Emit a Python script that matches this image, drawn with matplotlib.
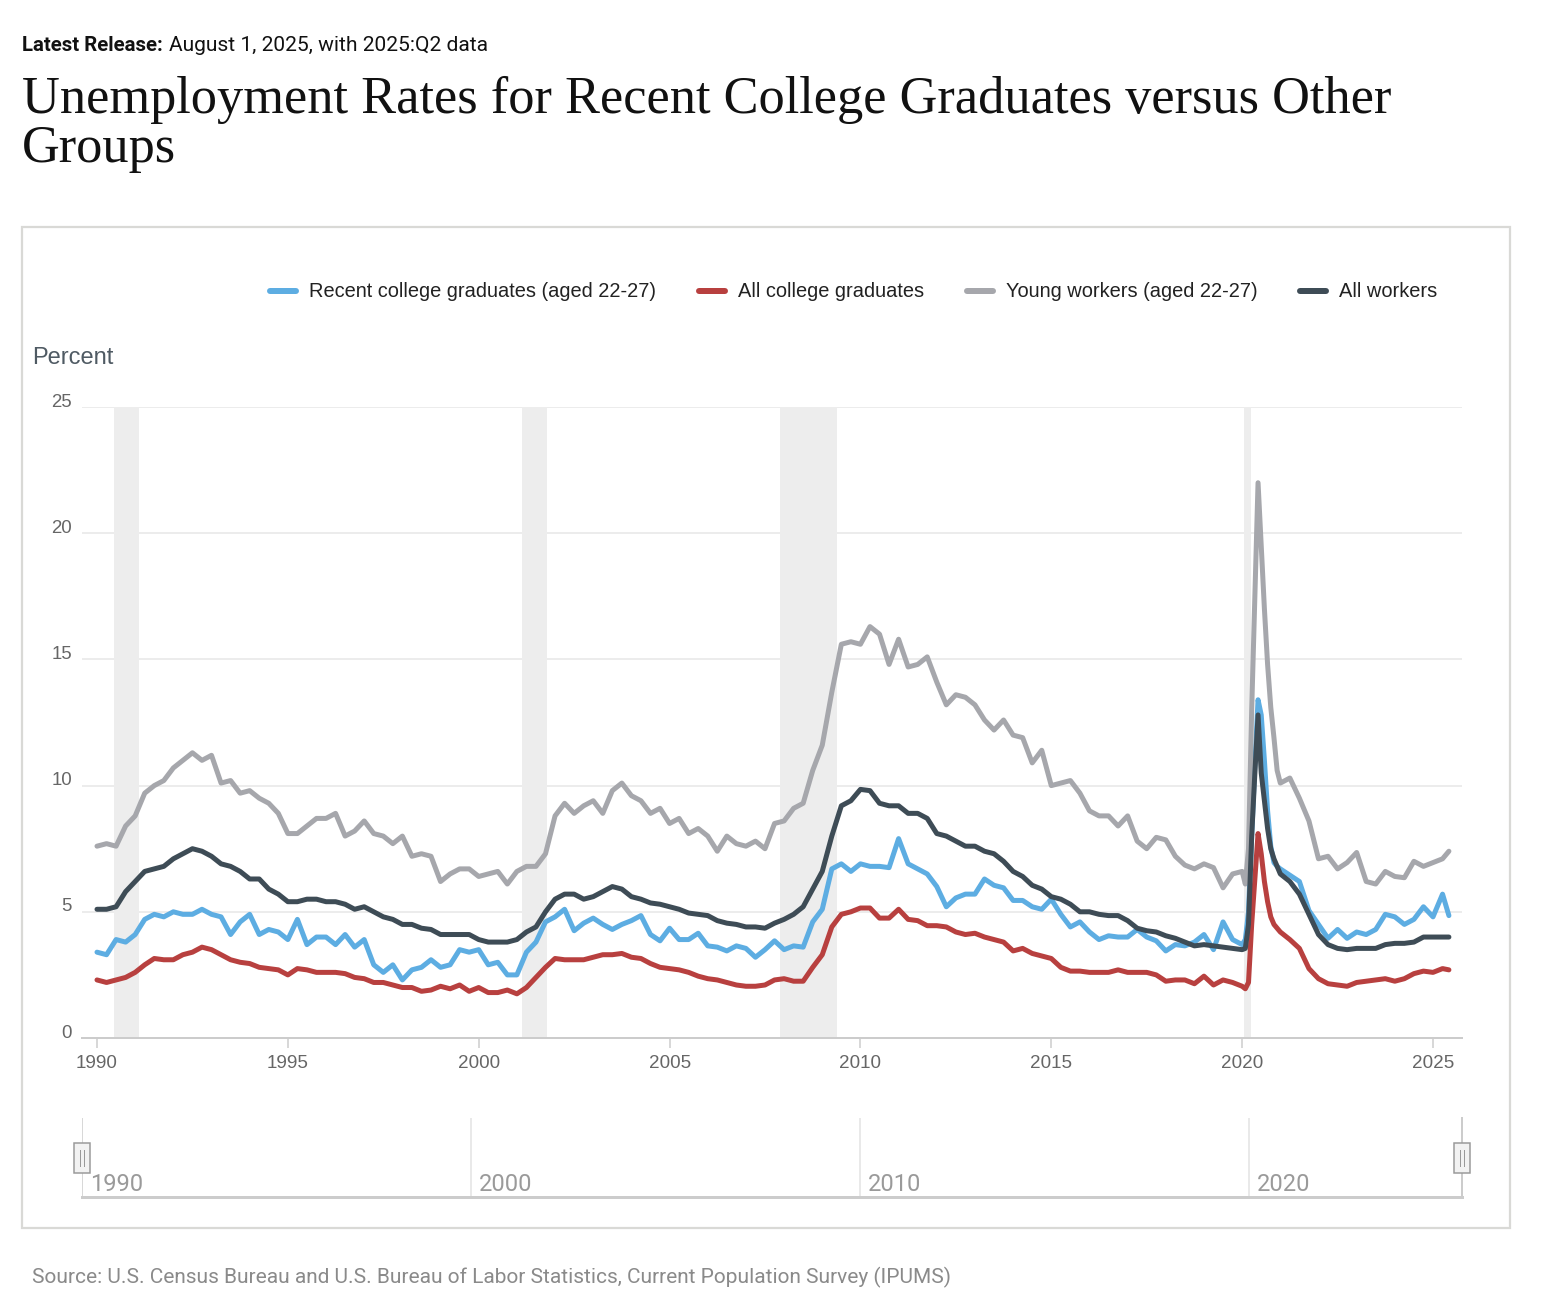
import numpy as np
import matplotlib
matplotlib.use('Agg')
import matplotlib.pyplot as plt
from matplotlib.patches import Rectangle
from matplotlib.lines import Line2D
from matplotlib import font_manager

# ---------------- data ----------------
years_quarterly = np.arange(1990, 2020, 0.25)                 # 1990Q1 .. 2019Q4
months_2020 = 2020 + np.arange(12) / 12                       # Jan .. Dec 2020
years_recent = np.append(np.arange(2021, 2025.5, 0.25), 2025 + 5 / 12)
dates = np.concatenate([years_quarterly, months_2020, years_recent])

recent_grads = (
    [3.4, 3.3, 3.9, 3.8, 4.1, 4.7, 4.9, 4.8, 5.0, 4.9, 4.9, 5.1, 4.9, 4.8, 4.1, 4.6,
     4.9, 4.1, 4.3, 4.2, 3.9, 4.7, 3.7, 4.0, 4.0, 3.7, 4.1, 3.6, 3.9, 2.9, 2.6, 2.9,
     2.3, 2.7, 2.8, 3.1, 2.8, 2.9, 3.5, 3.4, 3.5, 2.9, 3.0, 2.5, 2.5, 3.4, 3.8, 4.6]
    + [4.8, 5.1, 4.25, 4.55, 4.75, 4.5, 4.3, 4.5, 4.65, 4.85, 4.1, 3.85, 4.35, 3.9, 3.9, 4.15,
       3.65, 3.6, 3.45, 3.65, 3.55, 3.2, 3.5, 3.85, 3.5, 3.65, 3.6, 4.6, 5.1, 6.7, 6.9, 6.6,
       6.9, 6.8, 6.8, 6.75, 7.9, 6.9, 6.7, 6.5, 6.0, 5.2, 5.55, 5.7, 5.7, 6.3, 6.05, 5.95]
    + [5.45, 5.45, 5.2, 5.1, 5.5, 4.9, 4.4, 4.6, 4.2, 3.9, 4.05, 4.0,
       4.0, 4.3, 4.0, 3.85, 3.45, 3.7, 3.65, 3.8, 4.1, 3.5, 4.6, 3.9]
    + [3.7, 3.9, 5.0, 8.0, 10.8, 13.4, 12.8, 11.0, 9.0, 7.6, 6.95, 6.8]
    + [6.7, 6.45, 6.2, 5.05, 4.5, 3.95, 4.3, 3.95, 4.2, 4.1, 4.3, 4.9, 4.8, 4.5, 4.7,
       5.2, 4.8, 5.7, 4.85]
)

all_grads = (
    [2.3, 2.2, 2.3, 2.4, 2.6, 2.9, 3.15, 3.1, 3.1, 3.3, 3.4, 3.6, 3.5, 3.3, 3.1, 3.0,
     2.95, 2.8, 2.75, 2.7, 2.5, 2.75, 2.7, 2.6, 2.6, 2.6, 2.55, 2.4, 2.35, 2.2, 2.2, 2.1,
     2.0, 2.0, 1.85, 1.9, 2.05, 1.95, 2.1, 1.85, 2.0, 1.8, 1.8, 1.9, 1.75, 2.0, 2.4, 2.8]
    + [3.15, 3.1, 3.1, 3.1, 3.2, 3.3, 3.3, 3.35, 3.2, 3.15, 2.95, 2.8, 2.75, 2.7, 2.6, 2.45,
       2.35, 2.3, 2.2, 2.1, 2.05, 2.05, 2.1, 2.3, 2.35, 2.25, 2.25, 2.8, 3.3, 4.4, 4.9, 5.0,
       5.15, 5.15, 4.75, 4.75, 5.1, 4.7, 4.65, 4.45, 4.45, 4.4, 4.2, 4.1, 4.15, 4.0, 3.9, 3.8]
    + [3.45, 3.55, 3.35, 3.25, 3.15, 2.8, 2.65, 2.65, 2.6, 2.6, 2.6, 2.7,
       2.6, 2.6, 2.6, 2.5, 2.25, 2.3, 2.3, 2.15, 2.45, 2.1, 2.3, 2.2]
    + [2.05, 1.95, 2.2, 4.5, 6.3, 8.1, 7.3, 6.2, 5.4, 4.8, 4.5, 4.35]
    + [4.2, 3.9, 3.55, 2.75, 2.35, 2.15, 2.1, 2.05, 2.2, 2.25, 2.3, 2.35, 2.25, 2.35, 2.55,
       2.65, 2.6, 2.75, 2.7]
)

young_workers = (
    [7.6, 7.7, 7.6, 8.4, 8.8, 9.7, 10.0, 10.2, 10.7, 11.0, 11.3, 11.0, 11.2, 10.1, 10.2, 9.7,
     9.8, 9.5, 9.3, 8.9, 8.1, 8.1, 8.4, 8.7, 8.7, 8.9, 8.0, 8.2, 8.6, 8.1, 8.0, 7.7,
     8.0, 7.2, 7.3, 7.2, 6.2, 6.5, 6.7, 6.7, 6.4, 6.5, 6.6, 6.1, 6.6, 6.8, 6.8, 7.3]
    + [8.8, 9.3, 8.9, 9.2, 9.4, 8.9, 9.8, 10.1, 9.6, 9.4, 8.9, 9.1, 8.5, 8.7, 8.1, 8.3,
       8.0, 7.4, 8.0, 7.7, 7.6, 7.8, 7.5, 8.5, 8.6, 9.1, 9.3, 10.6, 11.6, 13.7, 15.6, 15.7,
       15.6, 16.3, 16.0, 14.8, 15.8, 14.7, 14.8, 15.1, 14.1, 13.2, 13.6, 13.5, 13.2, 12.6, 12.2, 12.6]
    + [12.0, 11.9, 10.9, 11.4, 10.0, 10.1, 10.2, 9.7, 9.0, 8.8, 8.8, 8.4,
       8.8, 7.8, 7.5, 7.95, 7.85, 7.2, 6.85, 6.7, 6.9, 6.75, 5.95, 6.5]
    + [6.6, 6.1, 7.5, 13.0, 17.5, 22.0, 19.5, 17.0, 14.8, 13.1, 11.9, 10.6]
    + [10.1, 10.3, 9.5, 8.6, 7.1, 7.2, 6.7, 6.95, 7.35, 6.2, 6.1, 6.6, 6.4, 6.35, 7.0,
       6.8, 6.95, 7.1, 7.4]
)

all_workers = (
    [5.1, 5.1, 5.2, 5.8, 6.2, 6.6, 6.7, 6.8, 7.1, 7.3, 7.5, 7.4, 7.2, 6.9, 6.8, 6.6,
     6.3, 6.3, 5.9, 5.7, 5.4, 5.4, 5.5, 5.5, 5.4, 5.4, 5.3, 5.1, 5.2, 5.0, 4.8, 4.7,
     4.5, 4.5, 4.35, 4.3, 4.1, 4.1, 4.1, 4.1, 3.9, 3.8, 3.8, 3.8, 3.9, 4.2, 4.4, 5.0]
    + [5.5, 5.7, 5.7, 5.5, 5.6, 5.8, 6.0, 5.9, 5.6, 5.5, 5.35, 5.3, 5.2, 5.1, 4.95, 4.9,
       4.85, 4.65, 4.55, 4.5, 4.4, 4.4, 4.35, 4.55, 4.7, 4.9, 5.2, 5.9, 6.6, 8.0, 9.2, 9.4,
       9.85, 9.8, 9.3, 9.2, 9.2, 8.9, 8.9, 8.7, 8.1, 8.0, 7.8, 7.6, 7.6, 7.4, 7.3, 7.0]
    + [6.6, 6.4, 6.05, 5.9, 5.6, 5.5, 5.3, 5.0, 5.0, 4.9, 4.85, 4.85,
       4.65, 4.35, 4.25, 4.2, 4.05, 3.95, 3.8, 3.65, 3.7, 3.65, 3.6, 3.55]
    + [3.5, 3.55, 4.5, 8.0, 10.5, 12.8, 10.5, 9.4, 8.3, 7.5, 7.1, 6.8]
    + [6.5, 6.2, 5.7, 4.9, 4.1, 3.7, 3.55, 3.5, 3.55, 3.55, 3.55, 3.7, 3.75, 3.75, 3.8,
       4.0, 4.0, 4.0, 4.0]
)

series_names = ["Recent college graduates (aged 22-27)", "All college graduates",
                "Young workers (aged 22-27)", "All workers"]
series_values = [recent_grads, all_grads, young_workers, all_workers]
series_colors = ["#5dade2", "#b8403f", "#a6a7ac", "#3e4c56"]

recessions = [(1990.45, 1991.10), (2001.13, 2001.79), (2007.89, 2009.39), (2020.05, 2020.24)]
y_ticks = [0, 5, 10, 15, 20, 25]
x_ticks = [1990, 1995, 2000, 2005, 2010, 2015, 2020, 2025]
nav_ticks = [1990, 2000, 2010, 2020]

source_text = ("Source: U.S. Census Bureau and U.S. Bureau of Labor Statistics, "
               "Current Population Survey (IPUMS)")

# ---------------- fonts ----------------
names = {f.name for f in font_manager.fontManager.ttflist}
SANS = 'Liberation Sans' if 'Liberation Sans' in names else 'DejaVu Sans'
SERIF = 'Liberation Serif' if 'Liberation Serif' in names else 'DejaVu Serif'
NARROW = 'Liberation Sans Narrow' if 'Liberation Sans Narrow' in names else 'Roboto'
ROBOTO = 'Roboto' if 'Roboto' in names else SANS

W, H = 1546, 1290
PT = 0.72  # points per pixel at dpi 100


def fx(x):
    return x / W


def fy(y):
    return 1 - y / H


fig = plt.figure(figsize=(W / 100, H / 100), dpi=100)
fig.patch.set_facecolor('white')
renderer = fig.canvas.get_renderer()


def fit(text, target_w):
    bb = text.get_window_extent(renderer)
    text.set_fontsize(text.get_fontsize() * target_w / bb.width)


# ---------------- header ----------------
h1 = fig.text(fx(22), fy(51), "Latest Release:", fontsize=16, fontweight='bold',
              family=NARROW, color='#111111', va='baseline')
fit(h1, 141)
h2 = fig.text(fx(169), fy(51), "August 1, 2025, with 2025:Q2 data", fontsize=16,
              family=NARROW, color='#111111', va='baseline')
fit(h2, 319)

t1 = fig.text(fx(22), fy(113), "Unemployment Rates for Recent College Graduates versus Other",
              fontsize=36, family=SERIF, color='#111111', va='baseline')
fit(t1, 1368)
fig.text(fx(22), fy(162), "Groups", fontsize=t1.get_fontsize(), family=SERIF,
         color='#111111', va='baseline')

# ---------------- chart frame ----------------
fig.add_artist(Rectangle((fx(22), fy(1228)), (1510 - 22) / W, (1228 - 227) / H,
                         transform=fig.transFigure, fill=False, ec='#d9d9d6', lw=1.6))

# ---------------- legend ----------------
legend_x = [268, 697, 965, 1298]
for x0, name, col in zip(legend_x, series_names, series_colors):
    fig.add_artist(Line2D([fx(x0 + 2), fx(x0 + 28)], [fy(291), fy(291)], lw=6 * PT,
                          color=col, solid_capstyle='round', transform=fig.transFigure))
    fig.text(fx(x0 + 41), fy(291), name, fontsize=14.4, family=SANS, color='#222222',
             va='center', ha='left')

fig.text(fx(32), fy(358), "Percent", fontsize=17, family=SANS, color='#4f5a63',
         va='center', ha='left')

# ---------------- main axes ----------------
ax = fig.add_axes([fx(82), fy(1038), 1380 / W, 631 / H])
px_per_year = (1433 - 97) / 35
ax.set_xlim(1990 - 15 / px_per_year, 1990 + 1365 / px_per_year)
ax.set_ylim(0, 25)
for s in ['top', 'right', 'left']:
    ax.spines[s].set_visible(False)
ax.spines['bottom'].set_color('#cccccc')
ax.spines['bottom'].set_linewidth(2 * PT)
ax.spines['bottom'].set_zorder(5)

ax.set_yticks(y_ticks)
ax.set_yticklabels([])
ax.tick_params(axis='y', length=0)
ax.yaxis.grid(True, color='#e6e6e6', lw=1.5 * PT)
ax.set_axisbelow(True)
for v in y_ticks:
    ax.annotate(str(v), xy=(0, v), xycoords=ax.get_yaxis_transform(),
                xytext=(-10 * PT, 5 * PT), textcoords='offset points',
                ha='right', va='center', fontsize=13.4, family=SANS, color='#666666')

ax.set_xticks(x_ticks)
ax.set_xticklabels([str(x) for x in x_ticks], family=SANS)
ax.tick_params(axis='x', length=10 * PT, width=1.5 * PT, color='#cccccc', pad=5.2,
               labelsize=13.6, labelcolor='#666666')

for s0, s1 in recessions:
    ax.axvspan(s0, s1, color='#ededed', lw=0, zorder=1)

for vals, col in zip(series_values, series_colors):
    ax.plot(dates, vals, color=col, lw=5 * PT, solid_joinstyle='round',
            solid_capstyle='round', zorder=3)

# ---------------- navigator ----------------
nav = fig.add_axes([fx(82), fy(1197), 1380 / W, (1197 - 1118) / H])
nav_px_per_year = (471 - 82) / 10
nav.set_xlim(1990, 1990 + 1380 / nav_px_per_year)
nav.set_ylim(0, 1)
nav.set_xticks([])
nav.set_yticks([])
for s in ['top', 'right', 'left']:
    nav.spines[s].set_visible(False)
nav.spines['bottom'].set_color('#cccccc')
nav.spines['bottom'].set_linewidth(3 * PT)
nav.patch.set_alpha(0)
for yr in nav_ticks:
    nav.axvline(yr, color='#e3e3e3' if yr != nav_ticks[0] else '#cccccc', lw=1.5 * PT)
    nav.annotate(str(yr), xy=(yr, 0), xycoords='data', xytext=(8 * PT, 6 * PT),
                 textcoords='offset points', ha='left', va='baseline',
                 fontsize=17, family=NARROW, color='#9a9a9a')
nav.axvline(nav.get_xlim()[1], color='#cccccc', lw=2 * PT, clip_on=False)

for cx in [82, 1462]:
    fig.add_artist(Rectangle((fx(cx - 8), fy(1173)), 16 / W, 30 / H,
                             transform=fig.transFigure, fc='#f2f2f2', ec='#999999',
                             lw=1.5 * PT, zorder=10))
    for dx in (-2, 2):
        fig.add_artist(Line2D([fx(cx + dx), fx(cx + dx)], [fy(1150), fy(1166)],
                              color='#999999', lw=1 * PT, transform=fig.transFigure,
                              zorder=11))

# ---------------- footer (kept fully inside the image, as low as possible) ----------------
src = fig.text(fx(32), fy(1288), source_text, fontsize=14, family=ROBOTO,
               color='#8a8a8a', va='bottom', ha='left')
fit(src, 921)

fig.savefig('out.png', dpi=100, facecolor='white')
